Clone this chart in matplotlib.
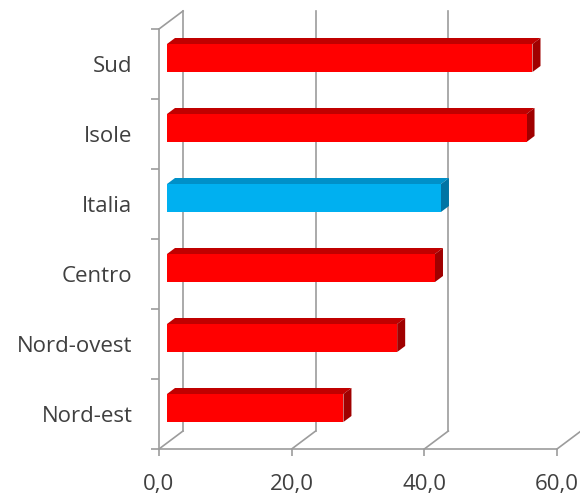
import matplotlib
matplotlib.use("Agg")
import matplotlib.pyplot as plt
from matplotlib.patches import Polygon

# regions listed top to bottom, values in percent
categories = ['Sud', 'Isole', 'Italia', 'Centro', 'Nord-ovest', 'Nord-est']
values = [55.1, 54.2, 41.3, 40.4, 34.7, 26.6]
highlight = 'Italia'
x_ticks = [0, 20, 40, 60]
x_labels = ['0,0', '20,0', '40,0', '60,0']

plt.rcParams['font.family'] = ['Open Sans', 'DejaVu Sans']

W, H = 580, 496
fig = plt.figure(figsize=(W / 100, H / 100), dpi=100)
ax = fig.add_axes([159 / W, 47 / H, (557 - 159) / W, (449 - 29) / H])
ax.set_xlim(0, 60)
ax.set_ylim(0, len(categories))

# depth of the fake 3d box, in data units
dx = 24 / ((557 - 159) / 60)
dy = 18 / ((449 - 29) / len(categories))
grid_col = '#9c9c9c'
text_col = '#404040'
lw = 1.2

# back wall and floor
for xv in x_ticks:
    ax.plot([xv + dx, xv + dx], [dy, len(categories) + dy], color=grid_col,
            lw=lw, clip_on=False, zorder=1)
    ax.plot([xv, xv + dx], [0, dy], color=grid_col, lw=lw, clip_on=False, zorder=1)
# top edge of the left wall
ax.plot([0, dx], [len(categories), len(categories) + dy], color=grid_col,
        lw=lw, clip_on=False, zorder=1)

# bars sit in the middle third of the depth
ox1, oy1 = dx / 3, dy / 3
ox2, oy2 = 2 * dx / 3, 2 * dy / 3
half = 0.2
for i, (name, v) in enumerate(zip(categories[::-1], values[::-1])):
    if name == highlight:
        front, top, side = '#00b0f0', '#0090c8', '#0074a4'
    else:
        front, top, side = '#ff0000', '#c00000', '#a00000'
    c = i + 0.5
    lo, hi = c - half, c + half
    ax.add_patch(Polygon([(ox1, lo + oy1), (v + ox1, lo + oy1),
                          (v + ox1, hi + oy1), (ox1, hi + oy1)],
                         closed=True, facecolor=front, edgecolor='none',
                         clip_on=False, zorder=4))
    ax.add_patch(Polygon([(ox1, hi + oy1), (v + ox1, hi + oy1),
                          (v + ox2, hi + oy2), (ox2, hi + oy2)],
                         closed=True, facecolor=top, edgecolor='none',
                         clip_on=False, zorder=3))
    ax.add_patch(Polygon([(v + ox1, lo + oy1), (v + ox2, lo + oy2),
                          (v + ox2, hi + oy2), (v + ox1, hi + oy1)],
                         closed=True, facecolor=side, edgecolor='none',
                         clip_on=False, zorder=3))

for s in ['top', 'right']:
    ax.spines[s].set_visible(False)
for s in ['left', 'bottom']:
    ax.spines[s].set_color(grid_col)
    ax.spines[s].set_linewidth(lw)
    ax.spines[s].set_zorder(2)

ax.set_xticks(x_ticks)
ax.set_xticklabels(x_labels)
ax.set_yticks(range(len(categories) + 1))
ax.set_yticklabels([])
ax.set_yticks([i + 0.5 for i in range(len(categories))], minor=True)
ax.set_yticklabels(categories[::-1], minor=True)
ax.tick_params(axis='x', length=5, width=lw, color=grid_col, pad=13,
               labelsize=16, labelcolor=text_col)
ax.tick_params(axis='y', which='major', length=6, width=lw, color=grid_col)
ax.tick_params(axis='y', which='minor', length=0, pad=19,
               labelsize=16, labelcolor=text_col)
ax.patch.set_visible(False)

fig.savefig('out.png', dpi=100)
